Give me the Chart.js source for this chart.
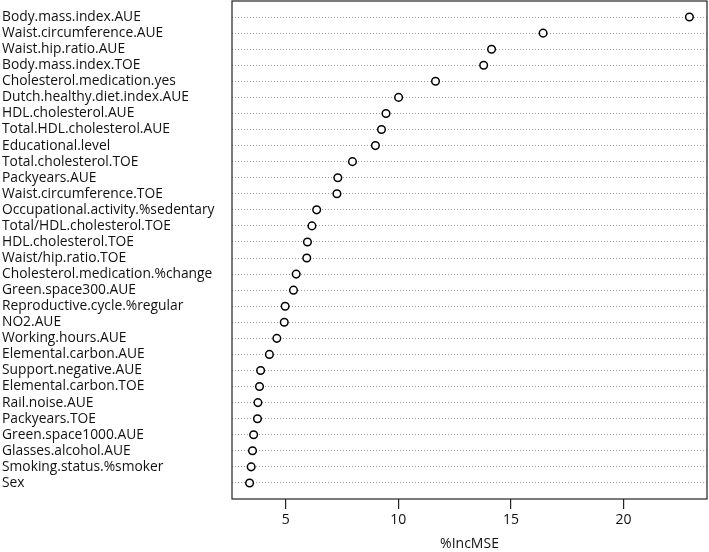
<!DOCTYPE html>
<html><head><meta charset="utf-8">
<script src="https://cdn.jsdelivr.net/npm/chart.js@4"></script>
<style>html,body{margin:0;padding:0;background:#fff}#wrap{width:709px;height:552px}</style>
</head><body><div id="wrap"><canvas id="c"></canvas></div>
<script>
const variables = [
  "Body.mass.index.AUE","Waist.circumference.AUE","Waist.hip.ratio.AUE","Body.mass.index.TOE",
  "Cholesterol.medication.yes","Dutch.healthy.diet.index.AUE","HDL.cholesterol.AUE",
  "Total.HDL.cholesterol.AUE","Educational.level","Total.cholesterol.TOE","Packyears.AUE",
  "Waist.circumference.TOE","Occupational.activity.%sedentary","Total/HDL.cholesterol.TOE",
  "HDL.cholesterol.TOE","Waist/hip.ratio.TOE","Cholesterol.medication.%change","Green.space300.AUE",
  "Reproductive.cycle.%regular","NO2.AUE","Working.hours.AUE","Elemental.carbon.AUE",
  "Support.negative.AUE","Elemental.carbon.TOE","Rail.noise.AUE","Packyears.TOE",
  "Green.space1000.AUE","Glasses.alcohol.AUE","Smoking.status.%smoker","Sex"
];
const incMSE = [
  22.93,16.43,14.14,13.79,11.65,10.01,9.45,9.25,8.98,7.96,7.31,7.27,6.37,6.16,5.96,5.93,
  5.46,5.34,4.97,4.93,4.60,4.27,3.88,3.83,3.76,3.74,3.57,3.52,3.46,3.39
];
const xTicks = [5,10,15,20];
const xTitle = "%IncMSE";

const n = variables.length;
const points = incMSE.map((v,i)=>({x:v, y:n-i}));
const dmin = Math.min(...incMSE), dmax = Math.max(...incMSE);
const ext = (dmax-dmin)*0.04;
const FONT = "'Open Sans', sans-serif";

const boxPlugin = {
  id:'box',
  afterDraw(chart){
    const {ctx, chartArea:a} = chart;
    ctx.save();
    ctx.strokeStyle = '#222';
    ctx.lineWidth = 1.2;
    ctx.strokeRect(a.left, a.top, a.right-a.left, a.bottom-a.top);
    // category labels, positioned by the y scale
    const ys = chart.scales.y;
    ctx.fillStyle = '#111';
    ctx.font = "13.8px " + FONT;
    ctx.textAlign = 'left';
    ctx.textBaseline = 'middle';
    ys.ticks.forEach(t => {
      ctx.fillText(variables[n - t.value], 2, ys.getPixelForValue(t.value));
    });
    ctx.restore();
  }
};

new Chart(document.getElementById('c'), {
  type:'scatter',
  data:{datasets:[{
    data:points,
    pointStyle:'circle',
    pointRadius:3.8,
    pointBorderWidth:1.5,
    pointBorderColor:'#000',
    pointBackgroundColor:'#fff',
    pointHoverRadius:3.8,
    clip:false
  }]},
  options:{
    responsive:true, maintainAspectRatio:false, animation:false,
    layout:{autoPadding:false, padding:{left:2,right:2,top:1,bottom:0}},
    plugins:{legend:{display:false}, tooltip:{enabled:false}},
    scales:{
      y:{
        type:'linear', min:0, max:n+1,
        afterBuildTicks(s){ s.ticks = variables.map((v,i)=>({value:n-i})); },
        afterFit(s){ s.width = 230; },
        ticks:{display:false, autoSkip:false},
        grid:{drawTicks:false, color:'#999', lineWidth:1},
        border:{display:false, dash:[1,2]}
      },
      x:{
        type:'linear', min:dmin-ext, max:dmax+ext,
        afterBuildTicks(s){ s.ticks = xTicks.map(v=>({value:v})); },
        afterFit(s){ s.height = 53; s.paddingLeft = 0; s.paddingRight = 0; },
        ticks:{color:'#111', padding:3, font:{family:FONT, size:14}},
        grid:{drawOnChartArea:false, drawTicks:true, tickLength:10, color:'#222', lineWidth:1.2},
        border:{display:false},
        title:{display:true, text:xTitle, color:'#111', padding:{top:4,bottom:0}, font:{family:FONT, size:14}}
      }
    }
  },
  plugins:[boxPlugin]
});
</script></body></html>
